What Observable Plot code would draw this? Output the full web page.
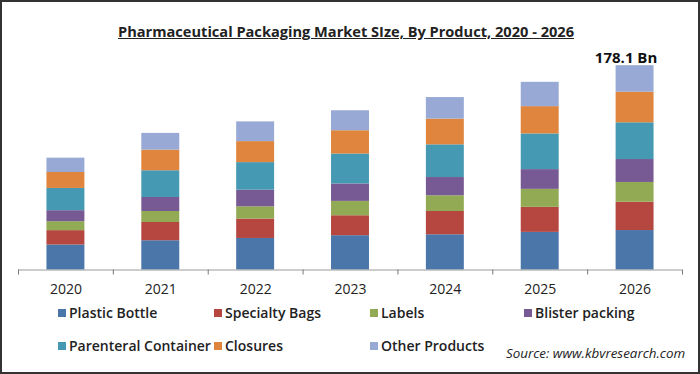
<!DOCTYPE html>
<html><head><meta charset="utf-8">
<script src="https://cdn.jsdelivr.net/npm/d3@7"></script>
<script src="https://cdn.jsdelivr.net/npm/@observablehq/plot@0.6"></script>
<style>
body{margin:0;background:#fff;}
#wrap{position:relative;width:700px;height:374px;overflow:hidden;font-family:"Open Sans",sans-serif;background:#fff;}
#frame{position:absolute;left:0;top:0;width:700px;height:374px;box-sizing:border-box;border:2px solid #333;pointer-events:none;}
#title{position:absolute;left:0;top:20px;width:692px;text-align:center;font-weight:700;font-size:14.6px;line-height:22px;text-decoration:underline;color:#222;}
#chart{position:absolute;left:0;top:45px;}
.lg{position:absolute;font-weight:600;font-size:14px;color:#222;line-height:18px;white-space:nowrap;}
.sw{position:absolute;width:8px;height:8px;}
#source{position:absolute;left:506px;top:344px;font-style:italic;font-size:13.4px;line-height:18px;color:#222;white-space:nowrap;}
</style></head>
<body>
<div id="wrap">
  <div id="title">Pharmaceutical Packaging Market SIze, By Product, 2020 - 2026</div>
  <div id="chart"></div>
  <div id="legend"></div>
  <div id="source">Source: www.kbvresearch.com</div>
  <div id="frame"></div>
</div>
<script>
const years = ["2020","2021","2022","2023","2024","2025","2026"];
const products = ["Plastic Bottle","Specialty Bags","Labels","Blister packing","Parenteral Container","Closures","Other Products"];
const plasticBottle       = [21.8, 25.5, 27.5, 29.9, 30.7, 32.8, 34.4];
const specialtyBags       = [12.5, 15.9, 16.9, 17.4, 20.3, 21.8, 24.7];
const labels              = [ 7.8,  9.6, 10.7, 12.5, 13.7, 15.7, 17.2];
const blisterPacking      = [ 9.6, 12.2, 14.5, 15.2, 15.9, 17.2, 20.0];
const parenteralContainer = [19.4, 23.3, 24.0, 26.1, 28.5, 31.1, 32.0];
const closures            = [13.9, 18.0, 18.3, 20.3, 22.4, 23.8, 26.7];
const otherProducts       = [12.5, 14.6, 17.2, 17.4, 18.8, 21.2, 23.1];
const colors = ["#4A76AA","#B54640","#93AA55","#775A94","#4699B2","#E0853D","#97A9D4"];

const series = [plasticBottle, specialtyBags, labels, blisterPacking, parenteralContainer, closures, otherProducts];
const table = [];
years.forEach((yr, i) => products.forEach((p, j) => table.push({year: yr, product: p, value: series[j][i]})));
const totals = years.map((yr, i) => ({year: yr, total: d3.sum(series, s => s[i])}));
const last = totals[totals.length - 1];

const W = 700, mL = 18, mR = 18, pInner = 0.6, pOuter = 0.3;
const step = (W - mL - mR) / (years.length - pInner + 2 * pOuter);

const plot = Plot.plot({
  width: W, height: 260, marginLeft: mL, marginRight: mR, marginTop: 18, marginBottom: 35.5,
  x: {domain: years, paddingInner: pInner, paddingOuter: pOuter, round: false, label: null},
  y: {domain: [0, 180], axis: null},
  color: {domain: products, range: colors},
  style: {fontFamily: "'Open Sans', sans-serif", fontSize: "14px", color: "#222", background: "transparent", overflow: "visible"},
  marks: [
    Plot.barY(table, {x: "year", y: "value", fill: "product"}),
    Plot.ruleY([0], {stroke: "#9a9a9a"}),
    Plot.axisX({tickSize: 0, tickPadding: 14, fontSize: 14, label: null}),
    Plot.axisX({tickSize: 5, tickFormat: () => "", dx: -step / 2, stroke: "#777", label: null}),
    Plot.axisX({ticks: [years[years.length - 1]], tickSize: 5, tickFormat: () => "", dx: step / 2, stroke: "#777", label: null}),
    Plot.text([last], {x: "year", y: "total", text: d => d.total.toFixed(1) + " Bn", lineAnchor: "bottom", dy: -3, dx: -9, fontWeight: "bold", fontSize: 15, fill: "#111"})
  ]
});
document.getElementById("chart").appendChild(plot);

const legendPos = [[58,304],[214,304],[370,304],[524,304],[58,337],[214,337],[370,337]];
const lg = document.getElementById("legend");
const cs = plot.scale("color");
products.forEach((p, i) => {
  const [x, y] = legendPos[i];
  const sw = document.createElement("div");
  sw.className = "sw"; sw.style.left = x + "px"; sw.style.top = (y + 5) + "px";
  sw.style.background = colors[cs.domain.indexOf(p)];
  lg.appendChild(sw);
  const t = document.createElement("div");
  t.className = "lg"; t.style.left = (x + 11) + "px"; t.style.top = y + "px";
  t.textContent = p;
  lg.appendChild(t);
});
</script>
</body></html>
